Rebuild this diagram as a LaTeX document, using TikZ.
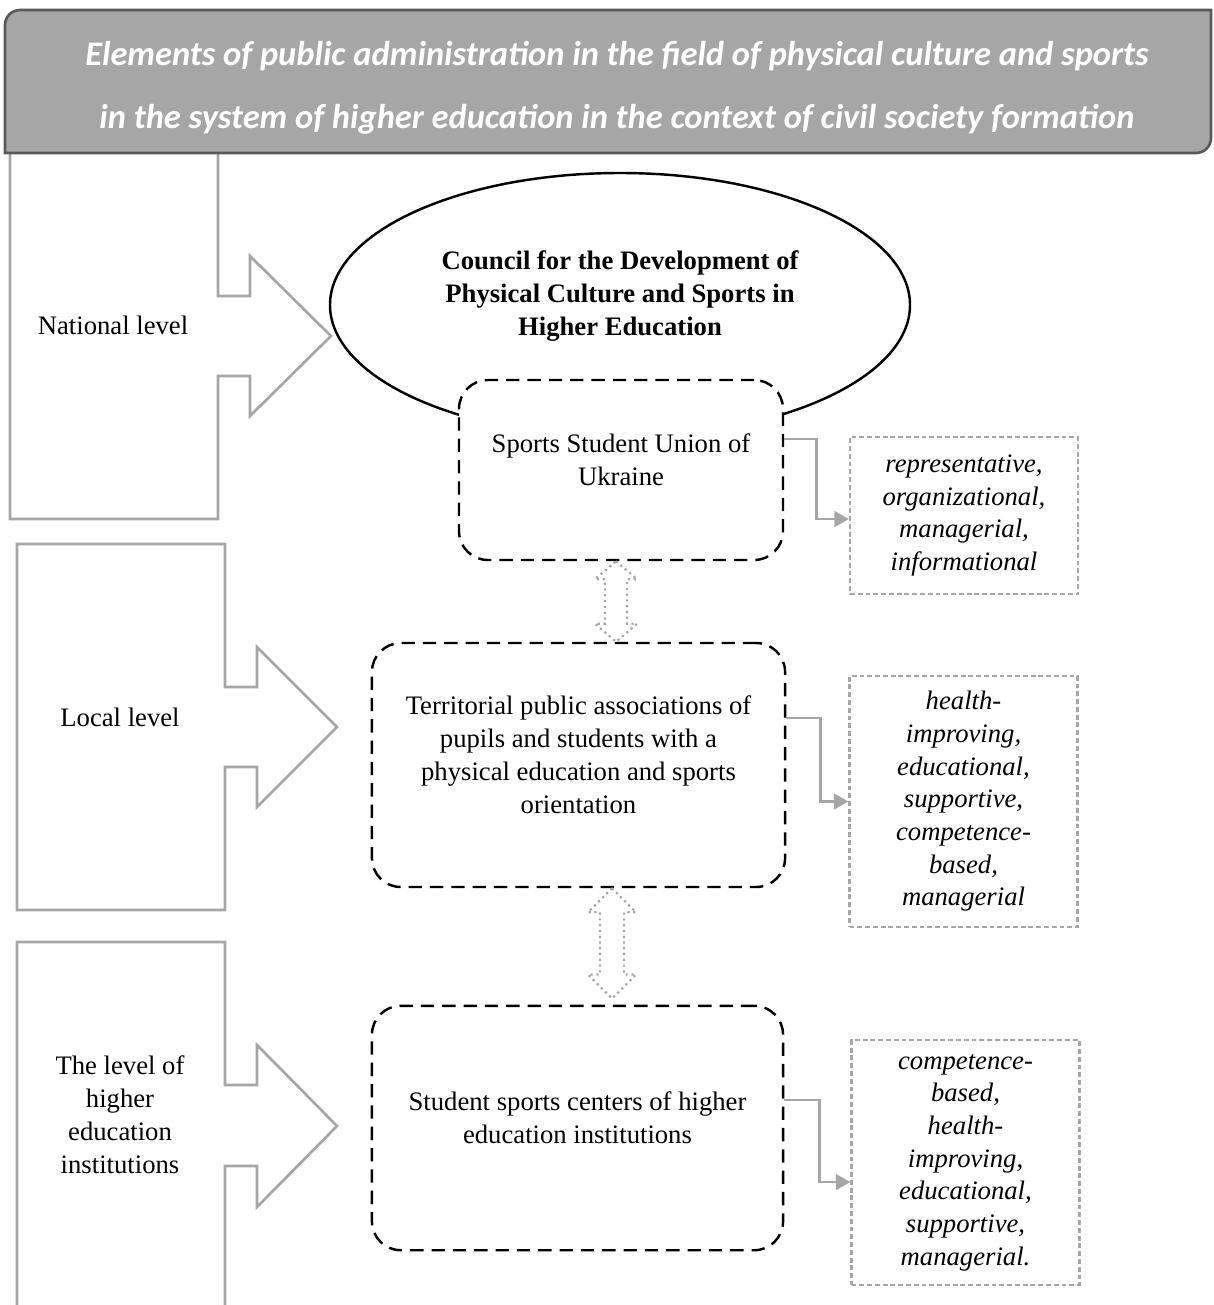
\documentclass[tikz,border=0pt]{standalone}
\usepackage{fontspec}
\setmainfont{Liberation Serif}
\newfontfamily\headfont{Carlito}
\usepackage{tikz}
\usetikzlibrary{shapes.geometric, arrows.meta, calc}
\definecolor{levelgray}{HTML}{A6A6A6}
\definecolor{headline}{HTML}{595959}
\tikzstyle{level} = [draw=levelgray, line width=1.2pt, fill=white]
\tikzstyle{leveltext} = [align=center, font=\fontsize{12}{14.85}\selectfont]
\tikzstyle{title} = [draw=headline, fill=levelgray, line width=1.2pt]
\tikzstyle{titletext} = [align=center, text=white, font=\headfont\bfseries\itshape\fontsize{15.5}{28.35}\selectfont]
\tikzstyle{council} = [ellipse, draw, line width=1.1pt, fill=white, inner sep=0pt, minimum width=261pt, minimum height=118.8pt, text depth=11pt, align=center, font=\bfseries\fontsize{12}{14.85}\selectfont]
\tikzstyle{unit} = [draw, dash pattern=on 6pt off 3.6pt, line width=1.1pt, rounded corners=13pt, fill=white, text depth=9pt, align=center, font=\fontsize{12}{14.85}\selectfont]
\tikzstyle{func} = [draw=levelgray, dash pattern=on 2.2pt off 1.3pt, line width=1pt, minimum width=102.6pt, align=center, font=\itshape\fontsize{12}{14.7}\selectfont]
\tikzstyle{arrow} = [draw=levelgray, line width=1.2pt, -{Triangle[length=6.5pt,width=7pt]}]
\tikzstyle{twoway} = [draw=levelgray, line width=1pt, dash pattern=on 1pt off 1.6pt]

\begin{document}
\begin{tikzpicture}[x=0.45pt, y=-0.45pt]
        \useasboundingbox (0,0) rectangle (1213,1305);
        \clip (0,0) rectangle (1213,1305);
        
        %national level
        \draw [level] (10,140) -- (218,140) -- (218,296) -- (250,296) -- (250,256) -- (331,336) -- (250,416) -- (250,376) -- (218,376) -- (218,519) -- (10,519) -- cycle;
        \node at (113,325) [leveltext] (national) {National level};
        
        %local level
        \draw [level] (17,544) -- (225,544) -- (225,687) -- (257,687) -- (257,647) -- (337,727) -- (257,807) -- (257,767) -- (225,767) -- (225,910) -- (17,910) -- cycle;
        \node at (120,717) [leveltext] (local) {Local level};
        
        %level of higher education institutions
        \draw [level] (17,942) -- (225,942) -- (225,1085) -- (257,1085) -- (257,1045) -- (337,1126) -- (257,1207) -- (257,1166) -- (225,1166) -- (225,1330) -- (17,1330) -- cycle;
        \node at (120,1115) [leveltext] (higher) {The level of\\higher\\education\\institutions};
        
        %title
        \draw [title] (5,153) -- (5,25) arc[start angle=180, end angle=90, radius=6.75pt] -- (1211,10) -- (1211,138) arc[start angle=0, end angle=-90, radius=6.75pt] -- cycle;
        \node at (617,88) [titletext] (head) {Elements of public administration in the field of physical culture and sports\\in the system of higher education in the context of civil society formation};
        
        %council
        \node at (620,305) [council] (council) {Council for the Development of\\Physical Culture and Sports in\\Higher Education};
        
        %organisations
        \node at (621,470) [unit, minimum width=145.8pt, minimum height=81pt] (union) {Sports Student Union of\\Ukraine};
        \node at (578.5,765) [unit, minimum width=185.9pt, minimum height=109.8pt] (terr) {Territorial public associations of\\pupils and students with a\\physical education and sports\\orientation};
        \node at (577.5,1128) [unit, minimum width=185pt, minimum height=110pt] (centers) {Student sports centers of higher\\education institutions};
        
        %functions
        \node at (964,515.5) [func, minimum height=70.7pt] (funcA) {representative,\\organizational,\\managerial,\\informational};
        \node at (963.5,801.5) [func, minimum height=113pt] (funcB) {health-\\improving,\\educational,\\supportive,\\competence-\\based,\\managerial};
        \node at (965.5,1162.5) [func, minimum height=110pt] (funcC) {competence-\\based,\\health-\\improving,\\educational,\\supportive,\\managerial.};
        
        \draw [arrow] ([yshift=14pt]union.east) -- ++(32,0) |- ([yshift=-1.6pt]funcA.west);
        \draw [arrow] ([yshift=21.2pt]terr.east) -- ++(34,0) |- (funcB.west);
        \draw [arrow] ([yshift=12.6pt]centers.east) -- ++(35,0) |- ([yshift=-8.8pt]funcC.west);
        
        %two way links
        \coordinate (t1) at (616,0 |- union.south);
        \coordinate (b1) at (616,0 |- terr.north);
        \draw [twoway] (t1) -- ++(21,18) -- ++(-10,0) -- ($(b1)+(11,-18)$) -- ++(10,0) -- (b1) -- ++(-21,-18) -- ++(10,0) -- ($(t1)+(-11,18)$) -- ++(-10,0) -- cycle;
        \coordinate (t2) at (612,0 |- terr.south);
        \coordinate (b2) at (612,0 |- centers.north);
        \draw [twoway] (t2) -- ++(24,24) -- ++(-12,0) -- ($(b2)+(12,-30)$) -- ++(12,0) -- ($(b2)+(0,-6)$) -- ++(-24,-24) -- ++(12,0) -- ($(t2)+(-12,24)$) -- ++(-12,0) -- cycle;
        
    \end{tikzpicture}
\end{document}
